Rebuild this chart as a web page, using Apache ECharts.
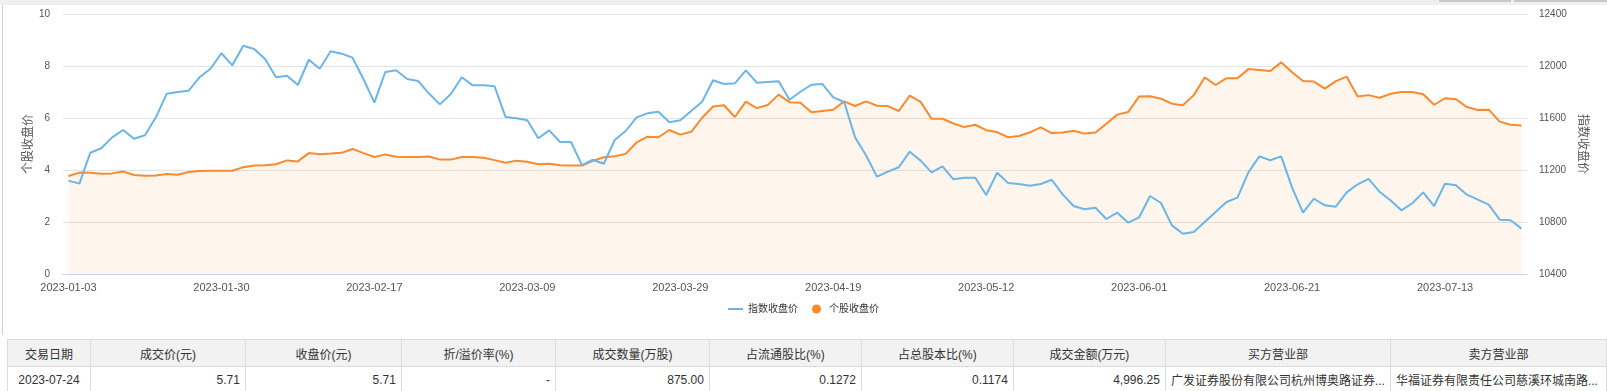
<!DOCTYPE html>
<html>
<head>
<meta charset="utf-8">
<script src="https://cdn.jsdelivr.net/npm/echarts@6.0.0/dist/echarts.min.js"></script>
<style>
html,body{margin:0;padding:0;background:#fff;width:1607px;height:391px;overflow:hidden;font-family:Arial,'Liberation Sans','Noto Sans CJK SC',sans-serif;}
#topbar{position:absolute;left:0;top:0;width:1607px;height:5px;background:#f0f0f0;}
#tab1{position:absolute;left:1439px;top:0;width:72px;height:2px;background:#c8c8c8;}
#tab2{position:absolute;left:1514px;top:0;width:93px;height:2px;background:#c8c8c8;}
#leftline{position:absolute;left:2px;top:5px;width:1px;height:330px;background:#cfcfcf;}
#chart{position:absolute;left:0;top:0;width:1607px;height:330px;}
table{position:absolute;left:7px;top:339px;border-collapse:collapse;table-layout:fixed;font-size:12px;color:#333;}
td,th{border:1px solid #dcdcdc;padding:0 5px;white-space:nowrap;overflow:hidden;}
th{background:#f2f2f2;font-weight:normal;height:26px;text-align:center;}
td{height:25px;background:#fff;}
td.r{text-align:right;}
td.c{text-align:center;}
td.l{text-align:left;}
</style>
</head>
<body>
<div id="topbar"></div><div id="tab1"></div><div id="tab2"></div>
<div id="leftline"></div>
<div id="chart"></div>
<table id="tbl">
<colgroup>
<col style="width:83px"><col style="width:155px"><col style="width:156px"><col style="width:154px"><col style="width:154px"><col style="width:152px"><col style="width:152px"><col style="width:152px"><col style="width:218px"><col style="width:216px">
</colgroup>
<thead><tr id="hdr"></tr></thead>
<tbody><tr id="row"></tr></tbody>
</table>
<script>
var dates = [
'2023-01-03','2023-01-04','2023-01-05','2023-01-06','2023-01-09','2023-01-10','2023-01-11','2023-01-12','2023-01-13','2023-01-16','2023-01-17','2023-01-18','2023-01-19','2023-01-20',
'2023-01-30','2023-01-31',
'2023-02-01','2023-02-02','2023-02-03','2023-02-06','2023-02-07','2023-02-08','2023-02-09','2023-02-10','2023-02-13','2023-02-14','2023-02-15','2023-02-16','2023-02-17','2023-02-20','2023-02-21','2023-02-22','2023-02-23','2023-02-24','2023-02-27','2023-02-28',
'2023-03-01','2023-03-02','2023-03-03','2023-03-06','2023-03-07','2023-03-08','2023-03-09','2023-03-10','2023-03-13','2023-03-14','2023-03-15','2023-03-16','2023-03-17','2023-03-20','2023-03-21','2023-03-22','2023-03-23','2023-03-24','2023-03-27','2023-03-28','2023-03-29','2023-03-30','2023-03-31',
'2023-04-03','2023-04-04','2023-04-06','2023-04-07','2023-04-10','2023-04-11','2023-04-12','2023-04-13','2023-04-14','2023-04-17','2023-04-18','2023-04-19','2023-04-20','2023-04-21','2023-04-24','2023-04-25','2023-04-26','2023-04-27','2023-04-28',
'2023-05-04','2023-05-05','2023-05-08','2023-05-09','2023-05-10','2023-05-11','2023-05-12','2023-05-15','2023-05-16','2023-05-17','2023-05-18','2023-05-19','2023-05-22','2023-05-23','2023-05-24','2023-05-25','2023-05-26','2023-05-29','2023-05-30','2023-05-31',
'2023-06-01','2023-06-02','2023-06-05','2023-06-06','2023-06-07','2023-06-08','2023-06-09','2023-06-12','2023-06-13','2023-06-14','2023-06-15','2023-06-16','2023-06-19','2023-06-20','2023-06-21','2023-06-26','2023-06-27','2023-06-28','2023-06-29','2023-06-30',
'2023-07-03','2023-07-04','2023-07-05','2023-07-06','2023-07-07','2023-07-10','2023-07-11','2023-07-12','2023-07-13','2023-07-14','2023-07-17','2023-07-18','2023-07-19','2023-07-20','2023-07-21','2023-07-24'
];
var stockClose = [
3.77,3.90,3.89,3.86,3.87,3.94,3.81,3.78,3.79,3.85,
3.82,3.92,3.96,3.97,3.97,3.97,4.11,4.17,4.18,4.22,
4.37,4.33,4.65,4.61,4.63,4.66,4.81,4.65,4.50,4.60,
4.51,4.50,4.50,4.52,4.40,4.40,4.50,4.50,4.47,4.38,
4.28,4.36,4.32,4.22,4.24,4.18,4.17,4.17,4.35,4.49,
4.53,4.62,5.06,5.28,5.26,5.54,5.36,5.47,6.01,6.44,
6.49,6.04,6.63,6.38,6.50,6.90,6.61,6.59,6.22,6.27,
6.32,6.64,6.46,6.64,6.47,6.46,6.27,6.86,6.62,5.97,
5.97,5.79,5.65,5.74,5.53,5.46,5.26,5.31,5.45,5.64,
5.42,5.44,5.51,5.40,5.44,5.78,6.13,6.23,6.83,6.84,
6.74,6.55,6.49,6.88,7.56,7.27,7.53,7.53,7.88,7.85,
7.81,8.14,7.76,7.42,7.40,7.13,7.42,7.59,6.83,6.88,
6.78,6.93,7.00,7.00,6.91,6.51,6.76,6.72,6.42,6.31,
6.32,5.86,5.74,5.71
];
var indexClose = [
11118,11095,11333,11367,11451,11508,11441,11467,11605,11787,
11800,11810,11913,11979,12098,12005,12156,12131,12054,11913,
11925,11854,12048,11979,12113,12095,12064,11900,11718,11954,
11967,11900,11885,11788,11705,11785,11913,11851,11851,11844,
11608,11598,11582,11444,11505,11415,11415,11238,11279,11248,
11431,11500,11605,11636,11648,11567,11582,11654,11725,11890,
11862,11867,11967,11872,11877,11882,11740,11802,11856,11862,
11759,11723,11451,11313,11149,11187,11221,11341,11272,11182,
11228,11128,11141,11141,11008,11179,11100,11092,11079,11092,
11125,11013,10923,10898,10910,10823,10872,10795,10836,11000,
10946,10774,10710,10723,10800,10877,10954,10987,11182,11305,
11275,11305,11064,10872,10979,10928,10918,11028,11090,11131,
11033,10967,10890,10944,11028,10923,11095,11082,11010,10972,
10933,10818,10813,10749
];
var seriesNames = ['指数收盘价','个股收盘价'];
var leftAxisName = '个股收盘价';
var rightAxisName = '指数收盘价';
var tableHeaders = ['交易日期','成交价(元)','收盘价(元)','折/溢价率(%)','成交数量(万股)','占流通股比(%)','占总股本比(%)','成交金额(万元)','买方营业部','卖方营业部'];
var tableRow = ['2023-07-24','5.71','5.71','-','875.00','0.1272','0.1174','4,996.25','广发证券股份有限公司杭州博奥路证券...','华福证券有限责任公司慈溪环城南路...'];
var tableAlign = ['c','r','r','r','r','r','r','r','l','l'];

var hdr = document.getElementById('hdr');
tableHeaders.forEach(function(h){var th=document.createElement('th');th.textContent=h;hdr.appendChild(th);});
var row = document.getElementById('row');
tableRow.forEach(function(v,i){var td=document.createElement('td');td.textContent=v;td.className=tableAlign[i];row.appendChild(td);});

var BLUE = '#6cb5e6', ORANGE = '#f98a2e';
var FONT = "Arial, 'Liberation Sans', 'Noto Sans CJK SC', sans-serif";
var chart = echarts.init(document.getElementById('chart'), null, {renderer:'canvas'});
chart.setOption({
  animation:false,
  textStyle:{fontFamily:FONT},
  grid:{left:63, right:80, top:14, bottom:56, containLabel:false},
  legend:{
    top:299, left:'center', itemWidth:15, itemHeight:9, itemGap:14,
    textStyle:{fontSize:10, color:'#333', fontFamily:FONT},
    data:[
      {name:seriesNames[0], icon:'path://M0,4 L15,4 L15,6 L0,6 Z', itemStyle:{color:BLUE}},
      {name:seriesNames[1], icon:'circle', itemStyle:{color:ORANGE}}
    ]
  },
  xAxis:{
    type:'category', data:dates, boundaryGap:true,
    axisLine:{lineStyle:{color:'#c6d5ea', width:1}},
    axisTick:{alignWithLabel:true, interval:13, length:5, lineStyle:{color:'#c6d5ea'}},
    axisLabel:{interval:13, color:'#555', fontSize:11, margin:8, fontFamily:FONT},
    splitLine:{show:false}
  },
  yAxis:[
    {type:'value', min:0, max:10, interval:2, position:'left',
     name:leftAxisName, nameLocation:'middle', nameGap:28, nameMoveOverlap:false,
     nameTextStyle:{color:'#555', fontSize:12, fontFamily:FONT},
     axisLine:{show:false}, axisTick:{show:false},
     axisLabel:{color:'#555', fontSize:10, margin:13, fontFamily:FONT},
     splitLine:{lineStyle:{color:'#e3e3e3', width:1}}},
    {type:'value', min:10400, max:12400, interval:400, position:'right',
     name:rightAxisName, nameLocation:'middle', nameGap:49, nameRotate:-90, nameMoveOverlap:false,
     nameTextStyle:{color:'#555', fontSize:12, fontFamily:FONT},
     axisLine:{show:false}, axisTick:{show:false},
     axisLabel:{color:'#555', fontSize:10, margin:12, fontFamily:FONT,
       formatter:function(v){return String(v);}},
     splitLine:{show:false}}
  ],
  series:[
    {name:seriesNames[1], type:'line', yAxisIndex:0, data:stockClose,
     symbol:'none', showSymbol:false,
     lineStyle:{color:ORANGE, width:2}, itemStyle:{color:ORANGE},
     areaStyle:{color:'rgba(249,138,46,0.12)'}},
    {name:seriesNames[0], type:'line', yAxisIndex:1, data:indexClose,
     symbol:'none', showSymbol:false,
     lineStyle:{color:BLUE, width:2}, itemStyle:{color:BLUE}}
  ]
});
</script>
</body>
</html>
